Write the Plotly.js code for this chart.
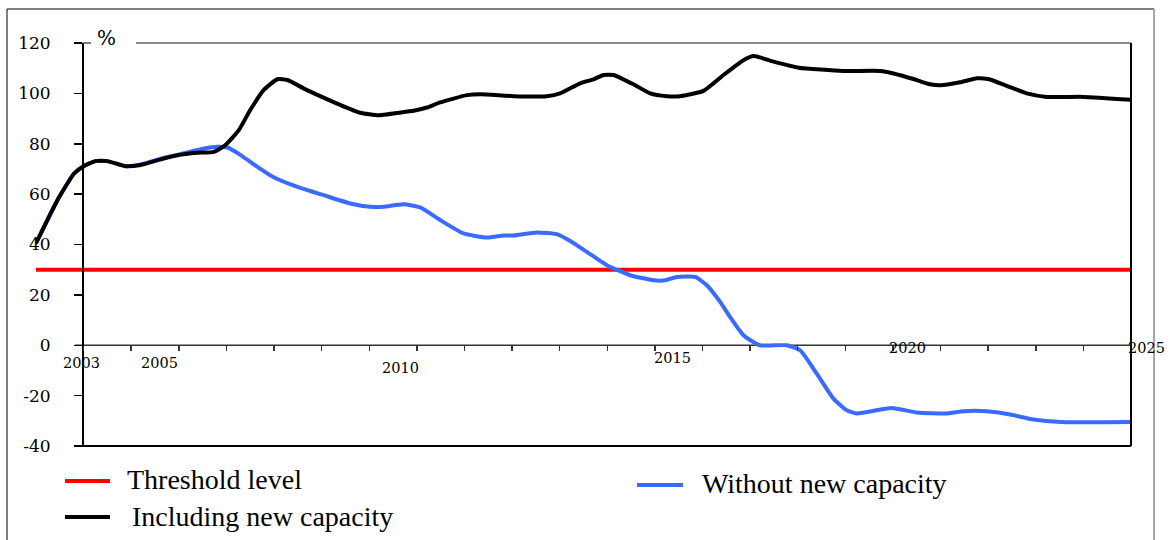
<!DOCTYPE html>
<html>
<head>
<meta charset="utf-8">
<script src="https://cdn.plot.ly/plotly-3.0.1.min.js"></script>
<style>html,body{margin:0;padding:0;background:#fff;}#chart{width:1170px;height:540px;}</style>
</head>
<body>
<div id="chart"></div>
<script>
// ---- data ----
const thresholdYears = [2002, 2025];
const thresholdValues = [30, 30];

const includingYears = [2002.0, 2002.45, 2002.8, 2003.0, 2003.25, 2003.5, 2003.88, 2004.2, 2004.62, 2004.97,
  2005.39, 2005.74, 2005.98, 2006.26, 2006.5, 2006.78, 2007.07, 2007.28, 2007.62, 2007.97,
  2008.39, 2008.81, 2009.2, 2009.62, 2009.93, 2010.21, 2010.49, 2011.05, 2011.33, 2012.03,
  2012.73, 2013.01, 2013.43, 2013.71, 2013.92, 2014.13, 2014.55, 2014.9, 2015.25, 2015.53,
  2016.02, 2016.44, 2016.86, 2017.08, 2017.49, 2018.02, 2018.96, 2019.73, 2020.01, 2020.43,
  2020.78, 2020.99, 2021.41, 2021.76, 2022.0, 2022.39, 2022.81, 2023.23, 2024.0, 2025.0];
const includingValues = [40.5, 57.6, 68.2, 71.1, 73.1, 73.1, 71.1, 71.6, 73.8, 75.4,
  76.4, 76.8, 79.5, 85.4, 93.4, 101.3, 105.6, 105.3, 102, 98.9,
  95.4, 92.3, 91.3, 92.3, 93.1, 94.4, 96.4, 99.3, 99.7, 98.9,
  98.9, 100, 104, 105.6, 107.3, 107.3, 103.6, 100, 98.9, 98.9,
  101, 107.3, 113.2, 114.8, 112.6, 110.2, 108.9, 108.9, 107.9, 105.7,
  103.6, 103.2, 104.4, 106, 105.7, 103, 100, 98.6, 98.6, 97.5];

const withoutYears = [2002.0, 2002.45, 2002.8, 2003.0, 2003.25, 2003.5, 2003.88, 2004.2, 2004.62, 2004.97,
  2005.53, 2005.81, 2006.02, 2006.3, 2006.65, 2007.0, 2007.49, 2008.04, 2008.6, 2009.02,
  2009.3, 2009.72, 2010.07, 2010.49, 2010.98, 2011.47, 2011.82, 2012.03, 2012.52, 2012.94,
  2013.22, 2013.57, 2013.99, 2014.48, 2014.97, 2015.22, 2015.46, 2015.85, 2016.09, 2016.37,
  2016.58, 2016.86, 2017.2, 2017.77, 2018.05, 2018.4, 2018.75, 2019.03, 2019.24, 2019.97,
  2020.5, 2021.13, 2021.48, 2021.97, 2022.46, 2022.95, 2023.51, 2025.0];
const withoutValues = [40.5, 57.6, 68.2, 71.1, 73.1, 73.1, 71.1, 71.8, 74.1, 75.6,
  78.1, 78.8, 78.5, 75.5, 70.8, 66.6, 62.9, 59.6, 56.3, 55,
  55, 56, 54.7, 49.7, 44.4, 42.8, 43.6, 43.6, 44.8, 44.1,
  41.4, 37.1, 31.8, 27.8, 25.8, 25.8, 27.1, 27.1, 23.8, 17.2,
  11.2, 4, 0, 0, -2, -11.3, -21.2, -25.8, -27.1, -24.9,
  -26.7, -27.1, -26.2, -26.2, -27.5, -29.5, -30.5, -30.5];

const tickYears = [2003,2004,2005,2006,2007,2008,2009,2010,2011,2012,2013,2014,2015,2016,2017,2018,2019,2020,2021,2022,2023,2024,2025];
const yTickValues = [-40, -20, 0, 20, 40, 60, 80, 100, 120];
const yTickTexts = ['-40', '-20', '0', '20', '40', '60', '80', '100', '120'];
const xLabelYears = [2003, 2005, 2010, 2015, 2020, 2025];
const xLabelTexts = ['2003', '2005', '2010', '2015', '2020', '2025'];
const seriesNames = ['Threshold level', 'Including new capacity', 'Without new capacity'];
const unitLabel = '%';

// ---- layout helpers (pixel -> paper) ----
const ML = 36, MR = 39, MT = 43, MB = 94, W = 1170, H = 540;
const PW = W - ML - MR, PH = H - MT - MB;
const PX = x => (x - ML) / PW;
const PY = y => (H - MB - y) / PH;

const SERIF = 'Liberation Serif, serif';
const TICKSERIF = 'DejaVu Serif, serif';
const RED = '#ff0000', BLUE = '#3a6bff', BLACK = '#000000';

const traces = [
  {x: thresholdYears, y: thresholdValues, name: seriesNames[0], mode: 'lines',
   line: {color: RED, width: 4}, showlegend: false},
  {x: withoutYears, y: withoutValues, name: seriesNames[2], mode: 'lines',
   line: {color: BLUE, width: 4, shape: 'spline', smoothing: 0.5}, showlegend: false},
  {x: includingYears, y: includingValues, name: seriesNames[1], mode: 'lines',
   line: {color: BLACK, width: 4, shape: 'spline', smoothing: 0.5}, showlegend: false}
];

// x label pixel offsets and vertical pixel centres
const xLabelShift = [-2.5, -19, -16, 18, 14.5, 15];
const xLabelPy = [362.5, 362.5, 368, 358, 347.5, 347.5];

const annotations = xLabelTexts.map((t, i) => ({
  text: t, xref: 'x', yref: 'paper', x: xLabelYears[i], xshift: xLabelShift[i],
  y: PY(xLabelPy[i]), xanchor: 'center', yanchor: 'middle', showarrow: false,
  font: {family: TICKSERIF, size: 14.5, color: '#000'}
}));
annotations.push({text: unitLabel, xref: 'paper', yref: 'paper', x: PX(106), y: PY(38),
  xanchor: 'center', yanchor: 'middle', showarrow: false, font: {family: TICKSERIF, size: 20, color: '#000'}});
const legendPos = [[125, 480], [130, 516], [700, 483]];
seriesNames.forEach((n, i) => annotations.push({
  text: n, xref: 'paper', yref: 'paper', x: PX(legendPos[i][0]), y: PY(legendPos[i][1]),
  xanchor: 'left', yanchor: 'middle', showarrow: false, font: {family: SERIF, size: 28, color: '#000'}
}));

const line = (x0, y0, x1, y1, color, width) => ({type: 'line', xref: 'paper', yref: 'paper',
  x0: x0, y0: y0, x1: x1, y1: y1, line: {color: color, width: width}, layer: 'above'});

const shapes = [
  // outer frame
  line(PX(7), PY(9), PX(7), PY(560), '#000', 1),
  line(PX(7), PY(9), PX(1154), PY(9), '#000', 1),
  line(PX(1154), PY(9), PX(1154), PY(560), '#888', 1.5),
  // plot box
  line(PX(83), 1, PX(91), 1, '#555', 1.5),
  line(PX(136), 1, 1, 1, '#666', 1.5),
  line(1, 0, 1, 1, '#000', 2),
  line(PX(75), 0, 1, 0, '#000', 2),
  // zero line
  {type: 'line', xref: 'paper', yref: 'y', x0: PX(75), x1: 1, y0: 0, y1: 0, line: {color: '#333', width: 1.5}, layer: 'below'},
  // legend symbols
  line(PX(65), PY(481), PX(110), PY(481), RED, 4),
  line(PX(65), PY(517), PX(110), PY(517), BLACK, 4),
  line(PX(637), PY(485), PX(683), PY(485), BLUE, 4)
];

const layout = {
  width: W, height: H,
  margin: {l: ML, r: MR, t: MT, b: MB, pad: 0},
  paper_bgcolor: '#fff', plot_bgcolor: '#fff',
  showlegend: false,
  xaxis: {range: [2002, 2025], domain: [0, 1], anchor: 'free', position: 0.25,
    tickvals: tickYears, ticks: 'outside', ticklen: 5, tickwidth: 1.5, tickcolor: '#333',
    showticklabels: false, showgrid: false, zeroline: false, showline: false, fixedrange: true},
  yaxis: {range: [-40, 120], domain: [0, 1], anchor: 'free', position: PX(83),
    tickvals: yTickValues, ticktext: yTickTexts, ticks: 'outside', ticklen: 8, tickwidth: 1.5, tickcolor: '#000',
    showline: true, linecolor: '#000', linewidth: 2, showgrid: false, zeroline: false,
    ticklabelstandoff: 20, tickfont: {family: TICKSERIF, size: 17, color: '#000'}, fixedrange: true},
  shapes: shapes,
  annotations: annotations
};

Plotly.newPlot('chart', traces, layout, {displayModeBar: false, staticPlot: true});
</script>
</body>
</html>
